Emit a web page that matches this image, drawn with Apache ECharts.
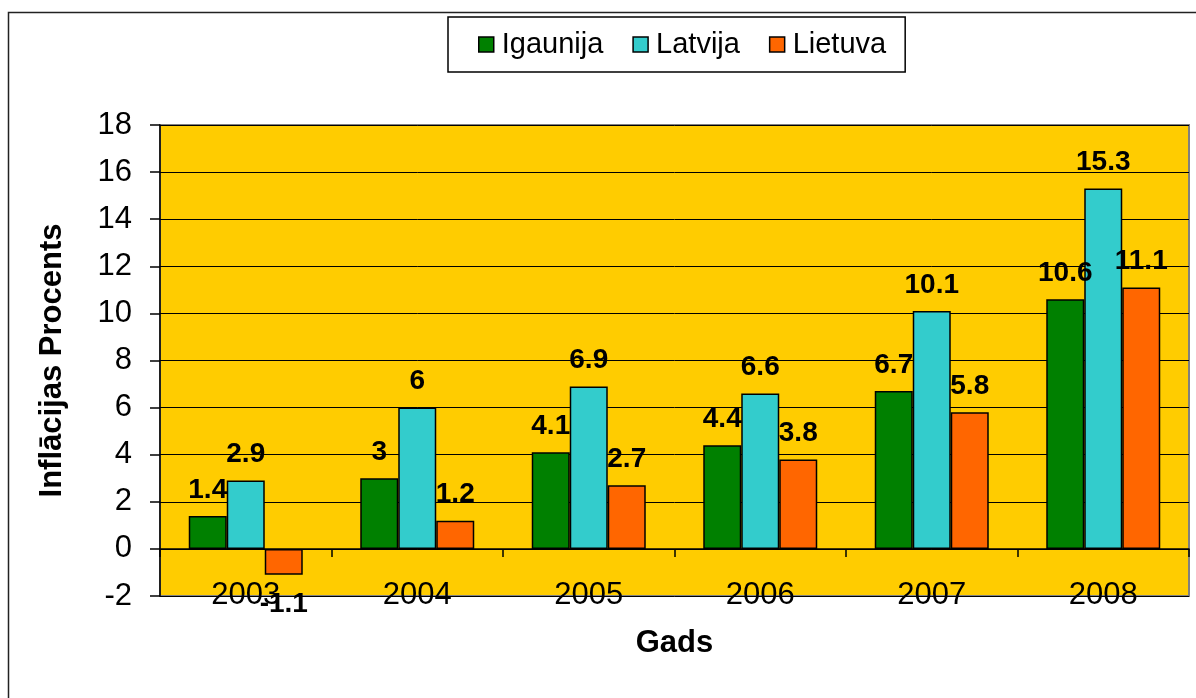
<!DOCTYPE html>
<html>
<head>
<meta charset="utf-8">
<script src="https://cdn.jsdelivr.net/npm/echarts@6/dist/echarts.min.js"></script>
<style>
  html, body { margin: 0; padding: 0; background: #fff; }
  #chart { width: 1196px; height: 698px; }
</style>
</head>
<body>
<div id="chart"></div>
<script>
const years = ['2003', '2004', '2005', '2006', '2007', '2008'];
const igaunija = [1.4, 3, 4.1, 4.4, 6.7, 10.6];
const latvija = [2.9, 6, 6.9, 6.6, 10.1, 15.3];
const lietuva = [-1.1, 1.2, 2.7, 3.8, 5.8, 11.1];

const font = 'Liberation Sans, Arial, sans-serif';

const barLabel = {
  show: true,
  position: 'top',
  distance: 12,
  color: '#000',
  fontFamily: font,
  fontSize: 28,
  fontWeight: 'bold'
};

// negative values get their label under the bar
const withLabels = values => values.map(v => v < 0
  ? { value: v, label: { position: 'bottom', distance: 15 } }
  : v);

const makeSeries = (name, values, color) => ({
  name: name,
  type: 'bar',
  barWidth: 38,
  barGap: '0%',
  data: withLabels(values),
  itemStyle: { color: color, borderColor: '#000', borderWidth: 1.5 },
  label: barLabel
});

const chart = echarts.init(document.getElementById('chart'));
chart.setOption({
  animation: false,
  backgroundColor: '#fff',
  graphic: [{
    type: 'rect',
    shape: { x: 8.5, y: 12.5, width: 1200, height: 700 },
    style: { fill: 'none', stroke: '#222', lineWidth: 1.5 },
    silent: true
  }],
  legend: {
    left: 448,
    top: 17,
    padding: [13, 19, 13, 30],
    borderColor: '#000',
    borderWidth: 1.5,
    itemWidth: 15,
    itemHeight: 15,
    itemGap: 29,
    icon: 'rect',
    itemStyle: { borderColor: '#000', borderWidth: 1.5 },
    textStyle: { color: '#000', fontFamily: font, fontSize: 29, padding: [2, 0, 0, 3] }
  },
  grid: {
    left: 160,
    top: 125,
    right: 7,
    bottom: 102,
    show: true,
    backgroundColor: '#FFCC00',
    borderColor: '#808080',
    borderWidth: 2
  },
  xAxis: [{
    type: 'category',
    data: years,
    axisLine: { onZero: true, lineStyle: { color: '#000', width: 1.5 } },
    axisTick: { show: true, length: 8, lineStyle: { color: '#000', width: 1.5 } },
    axisLabel: { show: false },
    splitLine: { show: false }
  }, {
    type: 'category',
    data: years,
    position: 'bottom',
    offset: -16,
    axisLine: { show: false },
    axisTick: { show: false },
    axisLabel: { margin: 0, color: '#000', fontFamily: font, fontSize: 31 },
    name: 'Gads',
    nameLocation: 'middle',
    nameGap: 48,
    nameTextStyle: { color: '#000', fontFamily: font, fontSize: 31, fontWeight: 'bold' }
  }],
  yAxis: {
    type: 'value',
    min: -2,
    max: 18,
    interval: 2,
    name: 'Inflācijas Procents',
    nameLocation: 'middle',
    nameGap: 92,
    nameTextStyle: { color: '#000', fontFamily: font, fontSize: 31, fontWeight: 'bold' },
    axisLine: { show: true, lineStyle: { color: '#000', width: 1.5 } },
    axisTick: { show: true, length: 10, lineStyle: { color: '#000', width: 1.5 } },
    axisLabel: { margin: 28, color: '#000', fontFamily: font, fontSize: 31 },
    splitLine: { lineStyle: { color: '#000', width: 1 } }
  },
  series: [
    makeSeries('Igaunija', igaunija, '#008000'),
    makeSeries('Latvija', latvija, '#33CCCC'),
    makeSeries('Lietuva', lietuva, '#FF6600')
  ]
});
</script>
</body>
</html>
